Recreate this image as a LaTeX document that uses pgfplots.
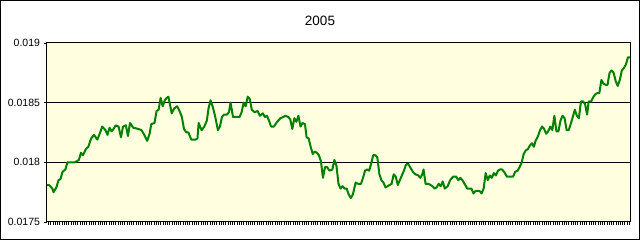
\documentclass[border=0pt]{standalone}
\usepackage{pgfplots}
\pgfplotsset{compat=1.18}
\usepackage{fontspec}
\setmainfont{Liberation Sans}
\definecolor{bgyellow}{RGB}{255,255,224}
\definecolor{linegreen}{RGB}{0,128,0}
\begin{document}
\begin{tikzpicture}
\begin{axis}[
  scale only axis,
  width=583pt, height=179pt,
  xmin=117, xmax=1543,
  ymin=0.0175, ymax=0.019,
  axis background/.style={fill=bgyellow},
  axis line style={black, line width=1pt},
  xtick distance=5.4846,
  xticklabels={},
  ytick={0.0175,0.018,0.0185,0.019},
  yticklabels={0.0175,0.018,0.0185,0.019},
  scaled y ticks=false,
  ymajorgrids,
  grid style={black, line width=1pt},
  tick align=outside,
  tick pos=left,
  major tick length=3pt,
  tick style={black, line width=0.6pt},
  yticklabel style={font=\fontsize{10.5}{12}\selectfont, xshift=-0.5pt},
  clip=false,
]
\addplot[linegreen, line width=2pt, line join=round] coordinates {
(117,0.01781)(122,0.01781)(130,0.01778)(133,0.01775)(140,0.01779)(145,0.01785)(150,0.01786)(155,0.01792)(162,0.01794)(167,0.01800)
(185,0.01800)(195,0.01802)(200,0.01808)(205,0.01806)(212,0.01811)(218,0.01813)(225,0.01820)(232,0.01823)(240,0.01819)(246,0.01824)
(252,0.01830)(260,0.01827)(265,0.01823)(270,0.01829)(275,0.01826)(280,0.01828)(285,0.01831)(292,0.01830)(298,0.01821)(303,0.01830)
(310,0.01831)(315,0.01822)(320,0.01833)(328,0.01829)(340,0.01828)(348,0.01827)(355,0.01823)(362,0.01818)(368,0.01824)(372,0.01832)
(380,0.01833)(385,0.01843)(390,0.01844)(395,0.01854)(400,0.01847)(405,0.01852)(410,0.01854)(414,0.01855)(418,0.01848)(422,0.01841)
(428,0.01845)(435,0.01847)(440,0.01844)(447,0.01838)(452,0.01828)(458,0.01825)(463,0.01825)(470,0.01819)(480,0.01819)(485,0.01820)
(488,0.01833)(495,0.01827)(502,0.01830)(508,0.01835)(512,0.01845)(517,0.01852)(522,0.01847)(528,0.01839)(535,0.01827)(540,0.01830)
(545,0.01838)(550,0.01840)(557,0.01840)(562,0.01842)(566,0.01850)(572,0.01838)(580,0.01838)(588,0.01838)(593,0.01842)(598,0.01850)
(603,0.01847)(608,0.01855)(613,0.01853)(618,0.01844)(625,0.01842)(632,0.01843)(638,0.01839)(645,0.01841)(650,0.01838)(655,0.01839)
(660,0.01835)(665,0.01830)(672,0.01830)(680,0.01834)(688,0.01837)(695,0.01838)(700,0.01839)(707,0.01838)(712,0.01836)(717,0.01828)
(722,0.01837)(727,0.01834)(732,0.01839)(737,0.01830)(742,0.01833)(748,0.01832)(752,0.01821)(757,0.01820)(762,0.01813)(767,0.01807)
(772,0.01809)(777,0.01808)(782,0.01806)(787,0.01801)(792,0.01787)(797,0.01796)(802,0.01796)(808,0.01793)(815,0.01794)(820,0.01802)
(825,0.01797)(830,0.01782)(835,0.01778)(840,0.01780)(845,0.01778)(850,0.01778)(855,0.01773)(860,0.01770)(865,0.01773)(872,0.01783)
(878,0.01782)(885,0.01782)(890,0.01787)(895,0.01793)(900,0.01794)(905,0.01793)(910,0.01799)(915,0.01806)(920,0.01806)(925,0.01804)
(930,0.01790)(935,0.01785)(940,0.01783)(945,0.01779)(950,0.01780)(955,0.01781)(960,0.01782)(965,0.01790)(970,0.01788)(975,0.01781)
(980,0.01785)(985,0.01789)(990,0.01793)(995,0.01798)(1000,0.01799)(1005,0.01796)(1012,0.01792)(1018,0.01790)(1025,0.01789)(1030,0.01787)
(1035,0.01790)(1038,0.01794)(1043,0.01782)(1050,0.01782)(1055,0.01781)(1060,0.01780)(1065,0.01778)(1070,0.01779)(1075,0.01782)(1080,0.01780)
(1085,0.01784)(1090,0.01778)(1097,0.01780)(1103,0.01785)(1110,0.01788)(1118,0.01788)(1123,0.01785)(1128,0.01787)(1133,0.01785)(1140,0.01781)
(1145,0.01778)(1150,0.01778)(1155,0.01778)(1160,0.01774)(1165,0.01776)(1170,0.01776)(1175,0.01776)(1180,0.01774)(1185,0.01778)(1190,0.01791)
(1195,0.01785)(1200,0.01789)(1205,0.01787)(1210,0.01791)(1215,0.01789)(1220,0.01793)(1225,0.01794)(1230,0.01794)(1235,0.01792)(1242,0.01788)
(1250,0.01788)(1257,0.01788)(1262,0.01792)(1268,0.01793)(1273,0.01796)(1278,0.01800)(1283,0.01807)(1288,0.01810)(1293,0.01811)(1298,0.01814)
(1303,0.01816)(1308,0.01813)(1312,0.01818)(1318,0.01822)(1323,0.01827)(1328,0.01830)(1333,0.01828)(1338,0.01824)(1343,0.01826)(1348,0.01830)
(1353,0.01827)(1358,0.01839)(1363,0.01826)(1368,0.01826)(1373,0.01835)(1378,0.01839)(1383,0.01837)(1388,0.01827)(1393,0.01827)(1398,0.01832)
(1403,0.01838)(1408,0.01844)(1413,0.01839)(1418,0.01837)(1423,0.01851)(1428,0.01851)(1433,0.01849)(1438,0.01840)(1442,0.01851)(1448,0.01851)
(1452,0.01854)(1458,0.01857)(1463,0.01858)(1468,0.01858)(1473,0.01869)(1478,0.01866)(1483,0.01865)(1488,0.01865)(1493,0.01875)(1498,0.01877)
(1503,0.01875)(1508,0.01868)(1513,0.01864)(1518,0.01869)(1523,0.01877)(1528,0.01879)(1533,0.01882)(1538,0.01888)(1543,0.01888)
};
\draw[black, line width=1pt] ([shift={(-46.5pt,-17.5pt)}]rel axis cs:0,0) rectangle ([shift={(9.5pt,42.5pt)}]rel axis cs:1,1);
\node[font=\fontsize{13.5}{15}\selectfont] at ([shift={(-18.5pt,22pt)}]rel axis cs:0.5,1) {2005};
\end{axis}
\end{tikzpicture}
\end{document}
